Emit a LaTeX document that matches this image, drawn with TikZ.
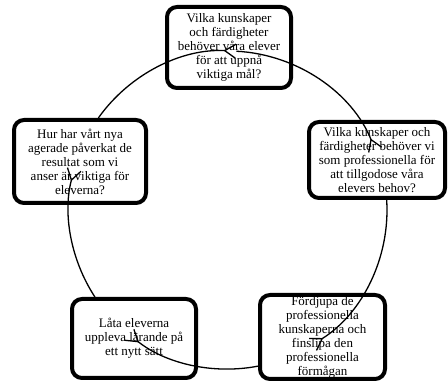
\documentclass[tikz,border=0pt]{standalone}
\usepackage{fontspec}
\setmainfont{Liberation Serif}
\usetikzlibrary{calc,arrows.meta}

\begin{document}
\begin{tikzpicture}[x=1pt, y=1pt,
		stepbox/.style={draw, line width=4pt, rounded corners=10pt, fill=white, align=center, inner sep=0pt, font=\fontsize{13}{14}\selectfont},
		cyc/.style={line width=1.3pt, -{Straight Barb[reversed, length=11pt, width=14pt]}}]
	\useasboundingbox (0,0) rectangle (448,383);
	\coordinate (c) at (228,173);
	\node[stepbox, minimum width=124pt, minimum height=81pt] (goal) at (229,335.5) {Vilka kunskaper\\och färdigheter\\behöver våra elever\\för att uppnå\\viktiga mål?};
	\node[stepbox, minimum width=136pt, minimum height=76pt] (need) at (377,223) {Vilka kunskaper och\\färdigheter behöver vi\\som professionella för\\att tillgodose våra\\elevers behov?};
	\node[stepbox, minimum width=125pt, minimum height=84pt] (deep) at (322.5,46) {Fördjupa de\\professionella\\kunskaperna och\\finslipa den\\professionella\\förmågan};
	\node[stepbox, minimum width=124pt, minimum height=79pt] (try) at (134,44.5) {Låta eleverna\\uppleva lärande på\\ett nytt sätt};
	\node[stepbox, minimum width=132pt, minimum height=83pt] (eval) at (80,221.5) {Hur har vårt nya\\agerade påverkat de\\resultat som vi\\anser är viktiga för\\eleverna?};

	\coordinate (goal-out) at ($(c)+(87:159)$);
	\coordinate (need-out) at ($(c)+(3.6:159)$);
	\coordinate (deep-out) at ($(c)+(-79:159)$);
	\coordinate (try-out) at ($(c)+(-146.8:159)$);
	\coordinate (eval-out) at ($(c)+(144.6:159)$);

	\draw[cyc] (goal-out) arc[start angle=87, end angle=22, radius=159pt];
	\draw[cyc] (need-out) arc[start angle=3.6, end angle=-58, radius=159pt];
	\draw[cyc] (deep-out) arc[start angle=-79, end angle=-128.5, radius=159pt];
	\draw[cyc] (try-out) arc[start angle=-146.8, end angle=-195, radius=159pt];
	\draw[cyc] (eval-out) arc[start angle=144.6, end angle=87, radius=159pt];
\end{tikzpicture}
\end{document}
